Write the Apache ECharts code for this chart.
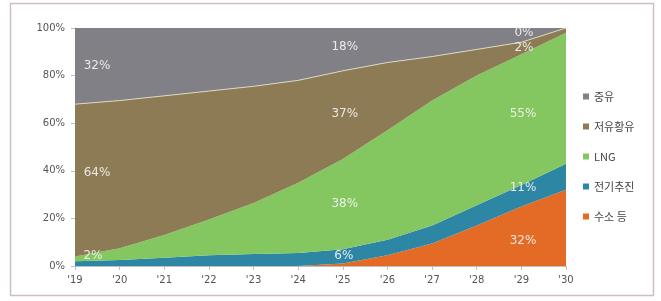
<!DOCTYPE html>
<html>
<head>
<meta charset="utf-8">
<script src="https://cdn.jsdelivr.net/npm/echarts@6/dist/echarts.min.js"></script>
<style>
  html, body { margin: 0; padding: 0; background: #fff; }
  #chart { width: 661px; height: 301px; }
</style>
</head>
<body>
<div id="chart"></div>
<script>
var years = ["'19", "'20", "'21", "'22", "'23", "'24", "'25", "'26", "'27", "'28", "'29", "'30"];
// 수소 등 / 전기추진 / LNG / 저유황유 / 중유 (%)
var hydrogen = [0, 0, 0, 0, 0, 0, 1, 4.5, 9.5, 17, 25, 32];
var electric = [2, 2.5, 3.5, 4.5, 5, 5.5, 6, 6.5, 7.5, 8.5, 9, 11];
var lng = [2, 5, 9.5, 15, 21.5, 29.5, 38, 46, 52.5, 54.5, 55, 55];
var lsfo = [64, 62, 58.5, 54, 49, 43, 37, 28.5, 18.5, 11, 5, 2];
var hfo = [32, 30.5, 28.5, 26.5, 24.5, 22, 18, 14.5, 12, 9, 6, 0];
var yTicks = [0, 20, 40, 60, 80, 100];

// label spots: [year index, y (%), x shift px]
var labelSpots = {
  "중유": [[0, 84, 22], [6, 92, 2], [11, 97.9, -42]],
  "저유황유": [[0, 39, 22], [6, 64, 2], [11, 91.6, -42]],
  "LNG": [[0, 4.2, 18], [6, 26, 2], [11, 64, -43]],
  "전기추진": [[6, 4.2, 1], [11, 32.7, -43]],
  "수소 등": [[11, 10.5, -43]]
};

var chart = echarts.init(document.getElementById("chart"));

function makeSeries(name, values, color, line) {
  var spots = labelSpots[name] || [];
  return {
    name: name,
    type: "line",
    stack: "total",
    data: values,
    symbol: "none",
    lineStyle: line || { width: 0 },
    areaStyle: { color: color, opacity: 1 },
    itemStyle: { color: color },
    emphasis: { disabled: true },
    markPoint: {
      symbol: "circle",
      symbolSize: 0,
      silent: true,
      data: spots.map(function (s) {
        return {
          coord: [s[0], s[1]],
          value: values[s[0]],
          label: {
            show: true,
            position: "inside",
            offset: [s[2], 0],
            formatter: Math.round(values[s[0]]) + "%",
            color: "rgba(245,245,245,0.9)",
            fontSize: 12,
            fontFamily: "DejaVu Sans"
          }
        };
      })
    }
  };
}

chart.setOption({
  animation: false,
  backgroundColor: "#fff",
  graphic: [
    {
      type: "rect",
      shape: { x: 10.5, y: 3.5, width: 643, height: 292 },
      style: { fill: "none", stroke: "#cdbfc6", lineWidth: 1.5 },
      silent: true
    }
  ],
  grid: { left: 75, right: 95, top: 28, bottom: 35 },
  legend: {
    orient: "vertical",
    left: 578,
    top: 86,
    itemWidth: 6,
    itemHeight: 6,
    itemGap: 19,
    icon: "rect",
    data: ["중유", "저유황유", "LNG", "전기추진", "수소 등"],
    textStyle: { fontSize: 11, color: "#444", fontFamily: "Noto Sans CJK KR" }
  },
  xAxis: {
    type: "category",
    data: years,
    boundaryGap: false,
    axisLine: { lineStyle: { color: "#bfbfbf" } },
    axisTick: { show: true, length: 4, lineStyle: { color: "#bfbfbf" } },
    axisLabel: { color: "#555", fontSize: 10, margin: 9, fontFamily: "DejaVu Sans" }
  },
  yAxis: {
    type: "value",
    min: yTicks[0],
    max: yTicks[yTicks.length - 1],
    interval: 20,
    axisLine: { show: true, lineStyle: { color: "#bfbfbf" } },
    axisTick: { show: true, length: 4, lineStyle: { color: "#bfbfbf" } },
    splitLine: { show: false },
    axisLabel: {
      color: "#555",
      fontSize: 10,
      margin: 10,
      fontFamily: "DejaVu Sans",
      formatter: "{value}%"
    }
  },
  series: [
    makeSeries("수소 등", hydrogen, "#e36b25"),
    makeSeries("전기추진", electric, "#2e86a5"),
    makeSeries("LNG", lng, "#84c65f"),
    makeSeries("저유황유", lsfo, "#8c7b54", { width: 1, color: "#ddd6bd" }),
    makeSeries("중유", hfo, "#808086")
  ]
});
</script>
</body>
</html>
